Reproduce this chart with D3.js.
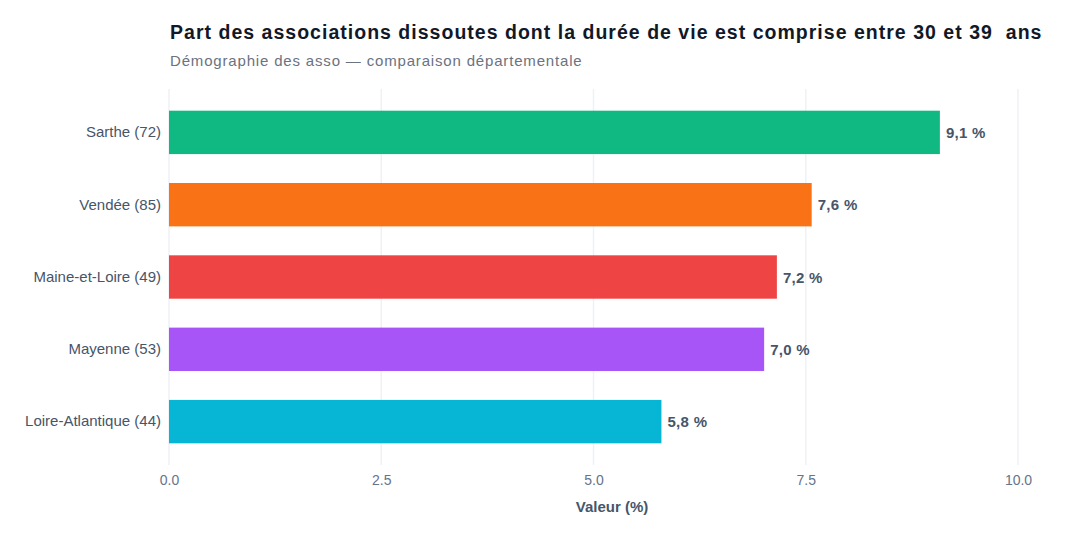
<!DOCTYPE html>
<html><head><meta charset="utf-8">
<script src="https://cdn.jsdelivr.net/npm/d3@7"></script>
<style>body{margin:0;background:#fff;} svg{display:block;font-family:"Liberation Sans",Arial,sans-serif;}</style>
</head><body><svg id="c" width="1080" height="540"></svg>
<script>
const categories = ["Sarthe (72)","Vendée (85)","Maine-et-Loire (49)","Mayenne (53)","Loire-Atlantique (44)"];
const values = [9.08, 7.57, 7.16, 7.01, 5.8];
const colors = ["#10b981","#f97316","#ef4444","#a855f7","#06b6d4"];
const tickValues = [0, 2.5, 5, 7.5, 10];
const titleText = "Part des associations dissoutes dont la durée de vie est comprise entre 30 et 39  ans";
const subtitleText = "Démographie des asso — comparaison départementale";
const axisTitle = "Valeur (%)";

const svg = d3.select("#c");
const m = {left:169, right:1018, top:89, bottom:465};
const x = d3.scaleLinear().domain([0,10]).range([m.left, m.right]);
const y = d3.scaleBand().domain(categories).range([m.top, m.bottom]).paddingInner(0.4).paddingOuter(0.3);

svg.append("text").attr("x",170).attr("y",39).attr("font-size",19.5).attr("font-weight","bold")
  .attr("letter-spacing","1.02px").attr("fill","#111827").style("white-space","pre").text(titleText);
svg.append("text").attr("x",170).attr("y",66).attr("font-size",15).attr("letter-spacing","0.83px")
  .attr("fill","#6b7280").text(subtitleText);

// grid
svg.append("g").selectAll("line").data(tickValues).join("line")
  .attr("x1",d=>x(d)).attr("x2",d=>x(d)).attr("y1",m.top).attr("y2",m.bottom)
  .attr("stroke","#eef1f5").attr("stroke-width",1.5);

// bars
svg.append("g").selectAll("rect").data(values).join("rect")
  .attr("x",x(0)).attr("y",(d,i)=>y(categories[i])).attr("width",d=>x(d)-x(0))
  .attr("height",y.bandwidth()).attr("fill",(d,i)=>colors[i]);

// value labels
svg.append("g").selectAll("text").data(values).join("text")
  .attr("x",d=>x(d)+6).attr("y",(d,i)=>y(categories[i])+y.bandwidth()/2+0.5).attr("dy","0.35em")
  .attr("font-size",15).attr("font-weight","bold").attr("letter-spacing","0.3px").attr("fill","#475569")
  .style("white-space","pre")
  .text(d=>d3.format(".1f")(d).replace(".",",")+"\u00a0%");

// y axis labels
const ya = svg.append("g").attr("transform",`translate(${m.left},0)`)
  .call(d3.axisLeft(y).tickSize(0).tickPadding(8));
ya.select(".domain").remove();
ya.selectAll("text").attr("font-size",15).attr("fill","#475569").attr("font-family","Liberation Sans, Arial, sans-serif");

// x axis
const xa = svg.append("g").attr("transform",`translate(0,${m.bottom})`)
  .call(d3.axisBottom(x).tickValues(tickValues).tickFormat(d3.format(".1f")).tickSize(0).tickPadding(10));
xa.select(".domain").remove();
xa.selectAll("text").attr("font-size",14).attr("fill","#64748b").attr("font-family","Liberation Sans, Arial, sans-serif");

svg.append("text").attr("x",612).attr("y",512).attr("text-anchor","middle")
  .attr("font-size",15).attr("font-weight","bold").attr("fill","#475569").text(axisTitle);
</script></body></html>
